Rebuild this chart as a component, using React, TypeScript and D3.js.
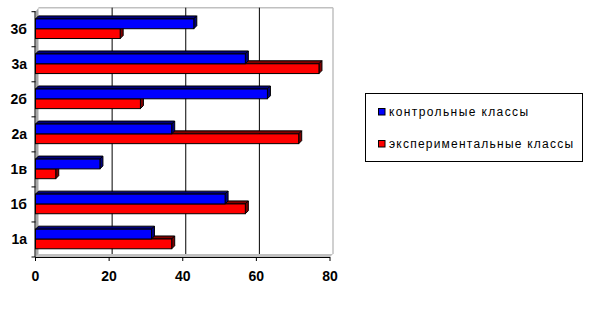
import React from "react";
import * as d3 from "d3";

const categories = ["3б", "3а", "2б", "2а", "1в", "1б", "1а"];
const controlValues = [43, 57, 63, 37, 17.5, 51.5, 31.5];
const experimentalValues = [23, 77, 28.5, 71.5, 5.5, 57, 37];
const xTicks = [0, 20, 40, 60, 80];
const seriesNames = ["контрольные классы", "экспериментальные классы"];

const W = 590;
const H = 315;
const DX = 3;
const DY = 3;
const FONT = "'Liberation Sans', Arial, sans-serif";

export default function App() {
  const x = d3.scaleLinear().domain([0, 80]).range([35.5, 330]);
  const y = d3.scaleBand<string>().domain(categories).range([11.7, 257]).paddingInner(0).paddingOuter(0);
  const band = y.bandwidth();
  const barH = 9.8;

  const series = [
    { name: seriesNames[1], values: experimentalValues, front: "#FF0000", side: "#800000", offset: 0 },
    { name: seriesNames[0], values: controlValues, front: "#0000FF", side: "#000080", offset: -1 },
  ];

  const wallTop = 11.7 - DY - 1;
  const floorY = 257;
  const backBottom = floorY - DY;
  const x0 = x(0);
  const xMax = x(80);

  const bars: React.ReactNode[] = [];
  series.forEach((s, si) => {
    categories.forEach((c, i) => {
      const cy = (y(c) as number) + band / 2 - 0.5;
      const top = s.offset === -1 ? cy - barH : cy;
      const x1 = x(s.values[i]);
      const topFace = `M${x0},${top} L${x0 + DX},${top - DY} L${x1 + DX},${top - DY} L${x1},${top} Z`;
      const sideFace = `M${x1},${top} L${x1 + DX},${top - DY} L${x1 + DX},${top + barH - DY} L${x1},${top + barH} Z`;
      bars.push(
        <g key={`${si}-${i}`}>
          <path d={topFace} fill={s.side} stroke="#000" strokeWidth={1} strokeLinejoin="round" />
          <path d={sideFace} fill={s.side} stroke="#000" strokeWidth={1} strokeLinejoin="round" />
          <rect x={x0} y={top} width={x1 - x0} height={barH} fill={s.front} stroke="#000" strokeWidth={1} />
        </g>
      );
    });
  });

  return (
    <svg
      width={W}
      height={H}
      style={{ position: "absolute", left: 0, top: 0, background: "#fff" }}
      fontFamily={FONT}
    >
      <rect x={0} y={0} width={W} height={H} fill="#fff" />
      {/* back wall border */}
      <line x1={x0 + DX} x2={xMax + DX} y1={wallTop} y2={wallTop} stroke="#c0c0c0" strokeWidth={1.5} />
      <line x1={xMax + DX} x2={xMax + DX} y1={wallTop} y2={backBottom} stroke="#c0c0c0" strokeWidth={1.5} />
      {/* gridlines on back wall */}
      {xTicks.slice(1, -1).map((t) => (
        <line key={t} x1={x(t) + DX} x2={x(t) + DX} y1={wallTop} y2={backBottom + 1} stroke="#000" strokeWidth={1} />
      ))}
      {/* floor */}
      <path
        d={`M${x0},${floorY} L${x0 + DX},${backBottom} L${xMax + DX},${backBottom} L${xMax},${floorY} Z`}
        fill="#c0c0c0"
      />
      {/* left wall */}
      <path
        d={`M${x0},${11.7} L${x0 + DX},${wallTop} L${x0 + DX},${backBottom} L${x0},${floorY} Z`}
        fill="#a8a8a8"
      />
      {bars}
      {/* axes */}
      <line x1={x0 - 0.5} x2={x0 - 0.5} y1={11.2} y2={floorY} stroke="#000" strokeWidth={1} />
      {categories.map((c) => (
        <line key={c} x1={x0 - 4} x2={x0} y1={(y(c) as number)} y2={(y(c) as number)} stroke="#000" strokeWidth={1} />
      ))}
      <line x1={x0 - 4} x2={x0} y1={floorY} y2={floorY} stroke="#000" strokeWidth={1} />
      <line x1={x0 - 0.5} x2={xMax} y1={floorY + 0.5} y2={floorY + 0.5} stroke="#000" strokeWidth={1} />
      {xTicks.map((t) => (
        <g key={t}>
          <line x1={x(t)} x2={x(t)} y1={floorY} y2={floorY + 4} stroke="#000" strokeWidth={1} />
          <text x={x(t)} y={280.5} textAnchor="middle" fontSize={14} fontWeight="bold" fill="#000">
            {t}
          </text>
        </g>
      ))}
      {categories.map((c) => (
        <text
          key={c}
          x={27}
          y={(y(c) as number) + band / 2 + 5}
          textAnchor="end"
          fontSize={14}
          fontWeight="bold"
          fill="#000"
        >
          {c}
        </text>
      ))}
      {/* legend */}
      <rect x={365.5} y={93.5} width={217} height={68} fill="#fff" stroke="#000" strokeWidth={1} />
      <rect x={378.5} y={108.5} width={6.5} height={6.5} fill="#0000FF" stroke="#000" strokeWidth={1} />
      <text x={389} y={116} fontSize={12} fill="#000" textLength={139} lengthAdjust="spacing">
        {seriesNames[0]}
      </text>
      <rect x={378.5} y={140.5} width={6.5} height={6.5} fill="#FF0000" stroke="#000" strokeWidth={1} />
      <text x={389} y={147.5} fontSize={12} fill="#000" textLength={184} lengthAdjust="spacing">
        {seriesNames[1]}
      </text>
    </svg>
  );
}
